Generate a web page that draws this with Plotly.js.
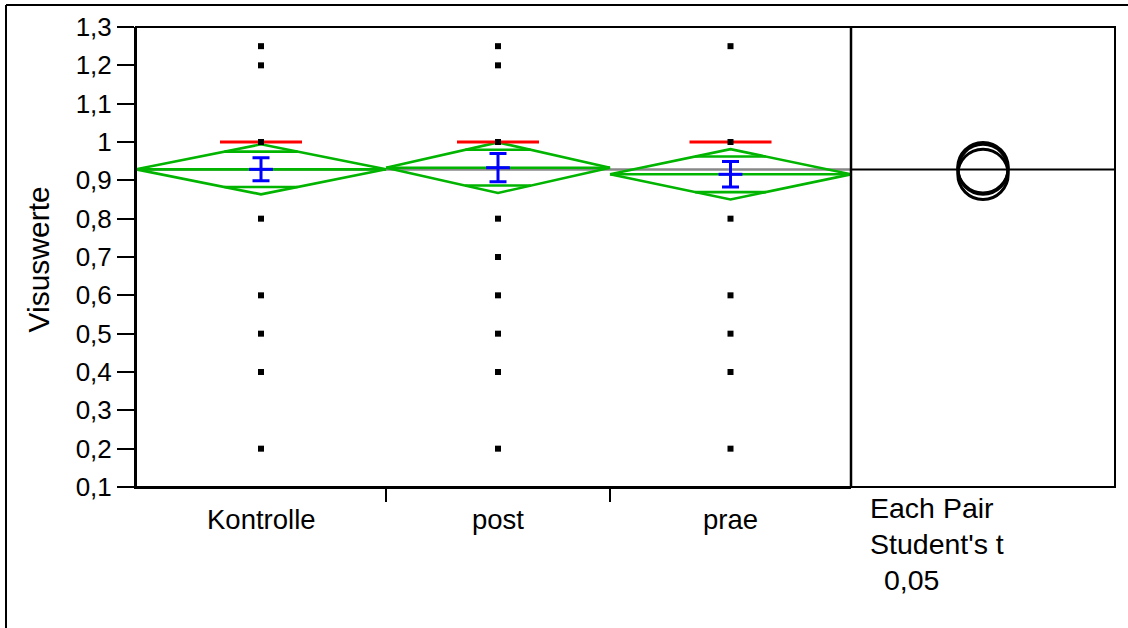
<!DOCTYPE html>
<html>
<head>
<meta charset="utf-8">
<script src="https://cdn.plot.ly/plotly-3.0.1.min.js"></script>
<style>
html,body{margin:0;padding:0;background:#ffffff;}
#chart{width:1128px;height:628px;}
</style>
</head>
<body>
<div id="chart"></div>
<script>
// ---------------- data ----------------
const categories = ['Kontrolle', 'post', 'prae'];
const groupWeights = [250, 224, 241];          // relative group widths (JMP: proportional to n)
const means = [0.9287, 0.933, 0.9157];         // group means (diamond centre lines)
const ciHalf = [0.0652, 0.066, 0.0657];        // 95% CI half-widths (diamond half-heights)
const seHalf = [0.030, 0.037, 0.0334];         // std-error bars (blue)
const medians = [1.0, 1.0, 1.0];               // red lines
const grandMean = 0.9285;                      // grey line / right-panel line
const obsKontrolle = [1.25, 1.2, 1.0, 0.8, 0.6, 0.5, 0.4, 0.2];
const obsPost = [1.25, 1.2, 1.0, 0.8, 0.7, 0.6, 0.5, 0.4, 0.2];
const obsPrae = [1.25, 1.0, 0.8, 0.6, 0.5, 0.4, 0.2];
const yTickVals = [0.1, 0.2, 0.3, 0.4, 0.5, 0.6, 0.7, 0.8, 0.9, 1.0, 1.1, 1.2, 1.3];
const yTitle = 'Visuswerte';
const testLabel = ['Each Pair', "Student's t", '0,05'];

// ---------------- layout constants ----------------
const W = 1128, H = 628;
const M = {l: 136, r: 13, t: 27, b: 141};
const plotW = W - M.l - M.r;      // 979
const plotH = H - M.t - M.b;      // 460
const yRange = [0.1, 1.3];
const totalW = groupWeights.reduce((a, b) => a + b, 0);
const leftPx = 715;
const split = leftPx / plotW;
const pxPerY = plotH / (yRange[1] - yRange[0]);
const rightPx = plotW - leftPx;
const x2Half = rightPx / 2 / pxPerY;
const unitPerPx = totalW / leftPx;
const px2paperX = px => (px - M.l) / plotW;
const px2paperY = py => (M.t + plotH - py) / plotH;

const GREEN = 'rgb(0,180,0)';
const bounds = [0];
groupWeights.forEach(w => bounds.push(bounds[bounds.length - 1] + w));
const centers = groupWeights.map((w, i) => bounds[i] + w / 2);
const obsAll = [obsKontrolle, obsPost, obsPrae];

// ---------------- traces ----------------
const traces = [];

// grey grand mean line across the left panel
traces.push({
  x: [0, totalW], y: [grandMean, grandMean], xaxis: 'x', yaxis: 'y',
  mode: 'lines', line: {color: 'rgb(136,136,136)', width: 2.5},
  hoverinfo: 'skip', showlegend: false
});

// green means diamonds
const dx = [], dy = [];
categories.forEach((c, i) => {
  const x0 = bounds[i], x1 = bounds[i + 1], xc = centers[i];
  const m = means[i], h = ciHalf[i];
  dx.push(x0, xc, x1, xc, x0, null); dy.push(m, m + h, m, m - h, m, null);
  dx.push(x0, x1, null); dy.push(m, m, null);
  const o = h / Math.SQRT2;
  const hw = (x1 - x0) / 2 * (1 - 1 / Math.SQRT2);
  dx.push(xc - hw, xc + hw, null); dy.push(m + o, m + o, null);
  dx.push(xc - hw, xc + hw, null); dy.push(m - o, m - o, null);
});
traces.push({
  x: dx, y: dy, xaxis: 'x', yaxis: 'y', mode: 'lines',
  line: {color: GREEN, width: 2.6}, hoverinfo: 'skip', showlegend: false
});

// blue std error bars
traces.push({
  x: centers, y: means, xaxis: 'x', yaxis: 'y', mode: 'markers',
  marker: {symbol: 'line-ew', size: 17, color: 'rgb(0,0,255)', line: {color: 'rgb(0,0,255)', width: 3}},
  error_y: {type: 'data', array: seHalf, visible: true, color: 'rgb(0,0,255)', thickness: 3, width: 8.5},
  showlegend: false
});

// red lines
const rx = [], ry = [];
categories.forEach((c, i) => {
  rx.push(centers[i] - 41 * unitPerPx, centers[i] + 41 * unitPerPx, null);
  ry.push(medians[i], medians[i], null);
});
traces.push({
  x: rx, y: ry, xaxis: 'x', yaxis: 'y', mode: 'lines',
  line: {color: 'rgb(255,0,0)', width: 3}, hoverinfo: 'skip', showlegend: false
});

// observations
const px = [], py = [];
obsAll.forEach((arr, i) => arr.forEach(v => { px.push(centers[i]); py.push(v); }));
traces.push({
  x: px, y: py, xaxis: 'x', yaxis: 'y', mode: 'markers',
  marker: {symbol: 'square', size: 6, color: '#000000'}, showlegend: false
});

// right panel: grand mean line
traces.push({
  x: [-x2Half, x2Half], y: [grandMean, grandMean], xaxis: 'x2', yaxis: 'y',
  mode: 'lines', line: {color: '#000000', width: 2}, hoverinfo: 'skip', showlegend: false
});

// ---------------- shapes ----------------
const shapes = [];
// comparison circles
categories.forEach((c, i) => {
  shapes.push({
    type: 'circle', xref: 'x2', yref: 'y',
    x0: -ciHalf[i], x1: ciHalf[i], y0: means[i] - ciHalf[i], y1: means[i] + ciHalf[i],
    line: {color: '#000000', width: 3}, layer: 'above'
  });
});
// plot frame
shapes.push({type: 'rect', xref: 'paper', yref: 'paper', x0: 0, x1: 1, y0: 0, y1: 1,
  line: {color: '#000000', width: 2}, layer: 'above'});
shapes.push({type: 'line', xref: 'paper', yref: 'paper', x0: split, x1: split, y0: 0, y1: 1,
  line: {color: '#000000', width: 2.5}, layer: 'above'});
// outer frame (top + left)
const ox = px2paperX(6), oy = px2paperY(5);
shapes.push({type: 'line', xref: 'paper', yref: 'paper', x0: ox, x1: ox, y0: px2paperY(640), y1: oy,
  line: {color: '#000000', width: 2}});
shapes.push({type: 'line', xref: 'paper', yref: 'paper', x0: ox, x1: px2paperX(1140), y0: oy, y1: oy,
  line: {color: '#000000', width: 2}});

// ---------------- annotations ----------------
const FONT = 'Liberation Sans, Arial, sans-serif';
const annotations = [];
categories.forEach((c, i) => {
  annotations.push({
    text: c, xref: 'x', yref: 'paper', x: centers[i], y: px2paperY(519),
    xanchor: 'center', yanchor: 'middle', showarrow: false,
    font: {family: FONT, size: 27.5, color: '#000000'}
  });
});
annotations.push({
  text: yTitle, xref: 'paper', yref: 'paper', x: px2paperX(37.5), y: px2paperY(260),
  textangle: -90, xanchor: 'center', yanchor: 'middle', showarrow: false,
  font: {family: FONT, size: 30, color: '#000000'}
});
const testX = [868, 868, 882];
const testY = [508, 544, 580];
testLabel.forEach((t, i) => {
  annotations.push({
    text: t, xref: 'paper', yref: 'paper', x: px2paperX(testX[i]), y: px2paperY(testY[i]),
    xanchor: 'left', yanchor: 'middle', showarrow: false,
    font: {family: FONT, size: 28.5, color: '#000000'}
  });
});

// ---------------- layout ----------------
const layout = {
  width: W, height: H,
  margin: {l: M.l, r: M.r, t: M.t, b: M.b, pad: 0},
  paper_bgcolor: '#ffffff', plot_bgcolor: '#ffffff',
  separators: ',.',
  showlegend: false,
  font: {family: FONT, color: '#000000'},
  xaxis: {
    domain: [0, split], range: [0, totalW], anchor: 'y',
    tickmode: 'array', tickvals: bounds.slice(1, -1), showticklabels: false,
    ticks: 'outside', ticklen: 13, tickwidth: 2, tickcolor: '#000000',
    showline: true, linecolor: '#000000', linewidth: 2,
    showgrid: false, zeroline: false, fixedrange: true, automargin: false
  },
  xaxis2: {
    domain: [split, 1], range: [-x2Half, x2Half], anchor: 'y',
    showticklabels: false, ticks: '', showline: false,
    showgrid: false, zeroline: false, fixedrange: true, automargin: false
  },
  yaxis: {
    domain: [0, 1], range: yRange, anchor: 'x',
    tickmode: 'array', tickvals: yTickVals,
    ticks: 'outside', ticklen: 17, tickwidth: 2, tickcolor: '#000000',
    tickfont: {family: FONT, size: 26, color: '#000000'},
    showline: true, linecolor: '#000000', linewidth: 2,
    showgrid: false, zeroline: false, fixedrange: true, automargin: false
  },
  shapes: shapes,
  annotations: annotations
};

Plotly.newPlot('chart', traces, layout, {staticPlot: true, displayModeBar: false});
</script>
</body>
</html>
